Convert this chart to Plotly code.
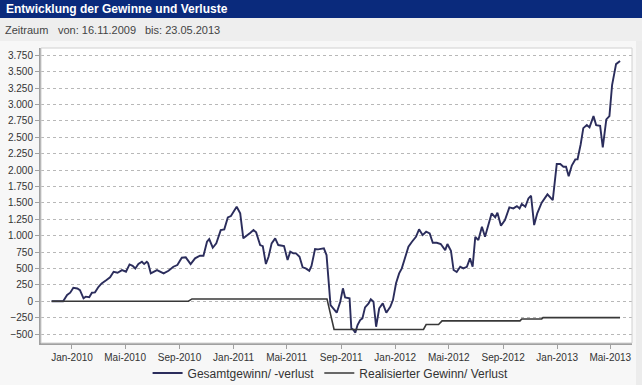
import plotly.graph_objects as go

# ---- data ----
gesamt_dates = [
    "2009-11-16", "2009-12-12", "2009-12-21", "2009-12-28", "2010-01-04", "2010-01-13", "2010-01-19",
    "2010-01-27", "2010-02-01", "2010-02-09", "2010-02-15", "2010-02-22", "2010-03-02", "2010-03-09",
    "2010-03-20", "2010-03-28", "2010-04-05", "2010-04-14", "2010-04-24", "2010-05-03", "2010-05-11",
    "2010-05-18", "2010-05-24", "2010-05-31", "2010-06-08", "2010-06-13", "2010-06-19", "2010-06-22",
    "2010-06-28", "2010-07-12", "2010-07-27", "2010-08-07", "2010-08-18", "2010-08-27", "2010-09-06",
    "2010-09-15", "2010-09-26", "2010-10-06", "2010-10-17", "2010-10-25", "2010-11-02", "2010-11-07",
    "2010-11-15", "2010-11-23", "2010-12-03", "2010-12-11", "2010-12-19", "2010-12-26", "2011-01-08",
    "2011-01-16", "2011-01-23", "2011-01-31", "2011-02-08", "2011-02-15", "2011-02-21", "2011-03-02",
    "2011-03-08", "2011-03-15", "2011-03-21", "2011-03-28", "2011-04-05", "2011-04-12", "2011-04-20",
    "2011-04-25", "2011-05-03", "2011-05-09", "2011-05-16", "2011-05-22", "2011-05-30", "2011-06-06",
    "2011-06-13", "2011-06-21", "2011-06-26", "2011-07-04", "2011-07-11", "2011-07-19", "2011-07-24",
    "2011-07-30", "2011-08-08", "2011-08-16", "2011-08-22", "2011-08-30", "2011-09-05", "2011-09-10",
    "2011-09-20", "2011-09-24", "2011-09-29", "2011-10-03", "2011-10-08", "2011-10-14", "2011-10-19",
    "2011-10-25", "2011-11-02", "2011-11-07", "2011-11-13", "2011-11-19", "2011-11-26", "2011-12-04",
    "2011-12-12", "2011-12-21", "2011-12-27", "2012-01-03", "2012-01-10", "2012-01-16", "2012-01-24",
    "2012-01-31", "2012-02-08", "2012-02-17", "2012-02-24", "2012-03-03", "2012-03-11", "2012-03-19",
    "2012-03-26", "2012-04-04", "2012-04-13", "2012-04-23", "2012-04-28", "2012-05-06", "2012-05-12",
    "2012-05-19", "2012-05-27", "2012-06-03", "2012-06-11", "2012-06-18", "2012-06-24", "2012-06-30",
    "2012-07-07", "2012-07-15", "2012-07-22", "2012-07-30", "2012-08-06", "2012-08-14", "2012-08-19",
    "2012-08-27", "2012-09-05", "2012-09-15", "2012-09-24", "2012-10-02", "2012-10-08", "2012-10-13",
    "2012-10-21", "2012-10-28", "2012-11-03", "2012-11-10", "2012-11-17", "2012-11-27", "2012-12-10",
    "2012-12-22", "2012-12-31", "2013-01-08", "2013-01-15", "2013-01-21", "2013-01-27", "2013-02-03",
    "2013-02-11", "2013-02-16", "2013-02-23", "2013-03-01", "2013-03-09", "2013-03-15", "2013-03-24",
    "2013-03-30", "2013-04-08", "2013-04-14", "2013-04-22", "2013-04-29", "2013-05-05", "2013-05-14",
    "2013-05-23",
]
gesamt_values = [
    0, 0, 95, 130, 205, 195, 170,
    45, 70, 60, 130, 135, 220, 272,
    323, 364, 450, 435, 475, 450, 562,
    541, 500, 567, 602, 567, 602, 580,
    425, 475, 425, 465, 526, 552, 663,
    669, 567, 654, 694, 694, 907, 948,
    816, 882, 1085, 1096, 1279, 1299, 1441,
    1340, 959, 1009, 1044, 1085, 1050, 857,
    841, 567, 679, 882, 959, 857, 841,
    841, 628, 755, 730, 730, 679, 517,
    501, 465, 537, 796, 791, 801, 806,
    704, -58, -124, -175, -8, 197, 59,
    44, -413, -439, -480, -363, -287, -261,
    -93, -32, 29, -8, -389, -108, -32,
    -175, -84, 18, 273, 425, 501, 679,
    831, 907, 983, 1096, 1009, 1060, 1035,
    892, 892, 872, 780, 872, 770, 476,
    445, 526, 501, 526, 654, 526, 983,
    933, 1136, 983, 1161, 1341, 1279, 1349,
    1151, 1238, 1431, 1416, 1451, 1416, 1482,
    1441, 1568, 1608, 1161, 1341, 1502, 1630,
    1543, 2092, 2092, 2051, 2051, 1905, 2070,
    2163, 2165, 2390, 2640, 2686, 2651, 2824,
    2686, 2676, 2346, 2773, 2824, 3296, 3616,
    3662,
]

realisiert_dates = [
    "2009-11-16", "2010-09-21", "2010-09-29", "2011-07-31", "2011-08-16", "2012-03-05", "2012-03-11",
    "2012-04-08", "2012-04-16", "2012-10-09", "2012-10-13", "2012-11-27", "2012-11-30", "2013-05-23",
]
realisiert_values = [0, 0, 35, 35, -430, -430, -355, -355, -300, -300, -270, -270, -250, -250]

x_tick_dates = ["2010-01-01", "2010-05-01", "2010-09-01", "2011-01-01", "2011-05-01", "2011-09-01",
                "2012-01-01", "2012-05-01", "2012-09-01", "2013-01-01", "2013-05-01"]
x_tick_labels = ["Jan-2010", "Mai-2010", "Sep-2010", "Jan-2011", "Mai-2011", "Sep-2011",
                 "Jan-2012", "Mai-2012", "Sep-2012", "Jan-2013", "Mai-2013"]
y_tick_values = [-500, -250, 0, 250, 500, 750, 1000, 1250, 1500, 1750, 2000, 2250,
                 2500, 2750, 3000, 3250, 3500, 3750]

series_names = ["Gesamtgewinn/ -verlust", "Realisierter Gewinn/ Verlust"]
title_text = "Entwicklung der Gewinne und Verluste"

# ---- figure ----
W, H = 642, 385
ML, MR, MT, MB = 41, 10, 48, 42
PW, PH = W - ML - MR, H - MT - MB


def px(x):
    return (x - ML) / PW


def py(y):
    return (H - MB - y) / PH


fig = go.Figure()
fig.add_trace(go.Scatter(x=gesamt_dates, y=gesamt_values, mode="lines", name=series_names[0],
                         line=dict(color="#2b2d5c", width=1.9)))
fig.add_trace(go.Scatter(x=realisiert_dates, y=realisiert_values, mode="lines", name=series_names[1],
                         line=dict(color="#383838", width=1.6)))

font_family = "Liberation Sans, Arial, sans-serif"
narrow_family = "Liberation Sans Narrow, Liberation Sans, Arial, sans-serif"

shapes = [
    dict(type="rect", xref="paper", yref="paper", x0=px(0), x1=px(W), y0=py(18), y1=py(0),
         fillcolor="#0a2a7c", line=dict(width=0), layer="below"),
    dict(type="rect", xref="paper", yref="paper", x0=px(0), x1=px(W), y0=py(41), y1=py(18),
         fillcolor="#eeeeee", line=dict(width=0), layer="below"),
    dict(type="rect", xref="paper", yref="paper", x0=0, x1=1, y0=0, y1=1,
         line=dict(color="#d0d0d0", width=1), layer="above"),
    dict(type="rect", xref="paper", yref="paper", x0=px(636), x1=px(W), y0=py(H), y1=py(41),
         fillcolor="#ececec", line=dict(width=0), layer="below"),
]

annotations = [
    dict(text="<b>" + title_text + "</b>", xref="paper", yref="paper", x=px(4), y=py(9),
         xanchor="left", yanchor="middle", showarrow=False,
         font=dict(family=font_family, size=12, color="white")),
    dict(text="Zeitraum", xref="paper", yref="paper", x=px(3), y=py(30),
         xanchor="left", yanchor="middle", showarrow=False,
         font=dict(family=font_family, size=11, color="#444444")),
    dict(text="von: 16.11.2009", xref="paper", yref="paper", x=px(56), y=py(30),
         xanchor="left", yanchor="middle", showarrow=False,
         font=dict(family=font_family, size=11, color="#444444")),
    dict(text="bis: 23.05.2013", xref="paper", yref="paper", x=px(143), y=py(30),
         xanchor="left", yanchor="middle", showarrow=False,
         font=dict(family=font_family, size=11, color="#444444")),
]

fig.update_layout(
    width=W, height=H,
    margin=dict(l=ML, r=MR, t=MT, b=MB, pad=0, autoexpand=False),
    paper_bgcolor="#f7f7f7",
    plot_bgcolor="white",
    separators=",.",
    font=dict(family=font_family, size=10, color="#333333"),
    showlegend=True,
    legend=dict(orientation="h", x=0.49, xanchor="center", y=py(373), yanchor="middle",
                font=dict(family=font_family, size=12, color="#333333"),
                bgcolor="rgba(0,0,0,0)", itemwidth=30, tracegroupgap=0),
    shapes=shapes,
    annotations=annotations,
    xaxis=dict(
        type="date",
        range=["2009-10-23", "2013-06-19"],
        tickvals=x_tick_dates, ticktext=x_tick_labels,
        showgrid=False, zeroline=False, automargin=False,
        showline=True, linecolor="#a0a0a0", linewidth=2,
        ticks="outside", ticklen=4, tickcolor="#a0a0a0",
        tickfont=dict(family=font_family, size=10, color="#333333"),
        fixedrange=True,
    ),
    yaxis=dict(
        range=[-637, 3862],
        tickvals=y_tick_values, tickformat=",d", automargin=False,
        showgrid=True, gridcolor="#b8b8b8", griddash="dot", gridwidth=1,
        zeroline=False,
        showline=True, linecolor="#a0a0a0", linewidth=2,
        ticks="outside", ticklen=4, tickcolor="#a0a0a0",
        tickfont=dict(family=narrow_family, size=10, color="#333333"),
        fixedrange=True,
    ),
)

fig.write_html("out.html", config={"displayModeBar": False},
               post_script="document.body.style.margin='0';")
